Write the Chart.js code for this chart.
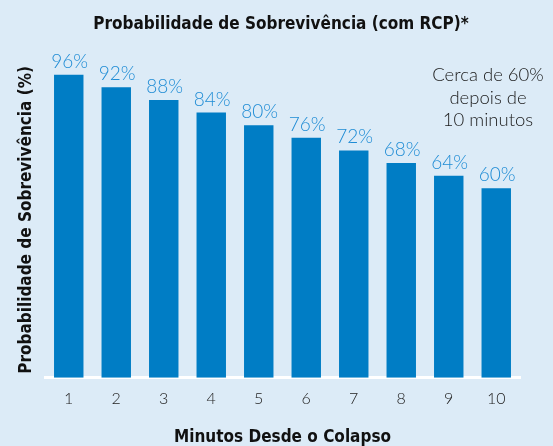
<!DOCTYPE html>
<html>
<head>
<meta charset="utf-8">
<script src="https://cdn.jsdelivr.net/npm/chart.js@4"></script>
<style>
  html, body { margin: 0; padding: 0; background: #dcebf7; }
  #wrap { width: 553px; height: 446px; position: relative; }
</style>
</head>
<body>
<div id="wrap"><canvas id="survivalChart"></canvas></div>
<script>
// Data
const minutes = ['1', '2', '3', '4', '5', '6', '7', '8', '9', '10'];
const survival = [96, 92, 88, 84, 80, 76, 72, 68, 64, 60];
const chartTitle = 'Probabilidade de Sobrevivência (com RCP)*';
const note = ['Cerca de 60%', 'depois de', '10 minutos'];

const narrow = '"Liberation Sans Narrow", "DejaVu Sans Condensed", "Roboto Condensed", sans-serif';
const light = 'Lato, "Open Sans", sans-serif';

// Title, percent labels above bars, note in the corner
const labelPlugin = {
    id: 'labels',
    afterDatasetsDraw(chart) {
        const ctx = chart.ctx;
        const meta = chart.getDatasetMeta(0);
        ctx.save();
        ctx.textAlign = 'center';

        ctx.font = 'bold 17px ' + narrow;
        ctx.fillStyle = '#111';
        ctx.textBaseline = 'middle';
        ctx.fillText(chartTitle, 281, 25);

        ctx.font = '300 19px ' + light;
        ctx.fillStyle = '#1f8cd5';
        ctx.textBaseline = 'alphabetic';
        meta.data.forEach((bar, i) => {
            ctx.fillText(survival[i] + '%', bar.x + 1, bar.y - 7);
        });

        ctx.font = '300 18.5px ' + light;
        ctx.fillStyle = '#1a1a1a';
        ctx.textBaseline = 'middle';
        note.forEach((line, i) => {
            ctx.fillText(line, 488, 75.5 + i * 22.5);
        });
        ctx.restore();
    }
};

const ctx = document.getElementById('survivalChart').getContext('2d');
const survivalChart = new Chart(ctx, {
    type: 'bar',
    data: {
        labels: minutes,
        datasets: [{
            data: survival,
            backgroundColor: '#007dc5',
            borderWidth: 0,
            categoryPercentage: 0.62,
            barPercentage: 1.0
        }]
    },
    options: {
        responsive: true,
        maintainAspectRatio: false,
        animation: false,
        layout: { padding: { left: 8, right: 33, top: 62, bottom: 0 } },
        plugins: {
            legend: { display: false },
            tooltip: { enabled: false },
            title: { display: false }
        },
        scales: {
            x: {
                grid: { display: false, drawTicks: false },
                border: { display: true, color: '#ffffff', width: 3 },
                ticks: {
                    color: '#222',
                    font: { family: light, size: 16, weight: '300' },
                    padding: 11
                },
                title: {
                    display: true,
                    text: 'Minutos Desde o Colapso',
                    color: '#111',
                    font: { family: narrow, size: 17, weight: 'bold', lineHeight: 1 },
                    padding: { top: 10, bottom: 0 }
                }
            },
            y: {
                min: 0,
                max: 100,
                grid: { display: false, drawTicks: false },
                border: { display: false },
                ticks: { display: false },
                title: {
                    display: true,
                    text: 'Probabilidade de Sobrevivência (%)',
                    color: '#111',
                    font: { family: narrow, size: 17, weight: 'bold', lineHeight: 1 },
                    padding: { top: 10, bottom: 10 }
                }
            }
        }
    },
    plugins: [labelPlugin]
});
</script>
</body>
</html>
